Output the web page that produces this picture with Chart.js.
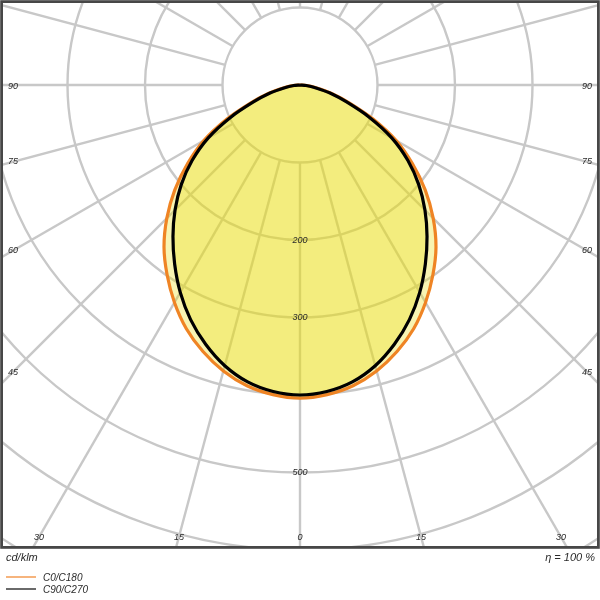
<!DOCTYPE html>
<html>
<head>
<meta charset="utf-8">
<script src="https://cdn.jsdelivr.net/npm/chart.js@4.4.1/dist/chart.umd.min.js"></script>
<style>
    html, body { margin: 0; padding: 0; background: #fff; }
    #wrap { width: 600px; height: 600px; }
</style>
</head>
<body>
<div id="wrap"><canvas id="ldc" width="600" height="600"></canvas></div>
<script>
// gamma angle from nadir, degrees (curves are symmetric, read from left half)
const gammaAngles = [0, 5, 10, 15, 20, 25, 30, 35, 40, 45, 50, 55, 60, 65, 70, 75, 80, 85, 90];
// cd/klm
const c0c180  = [404, 401, 394, 382, 366, 347, 324, 299, 273, 243, 211, 177, 143, 104, 68, 43, 22, 9, 0];
const c90c270 = [400, 397, 389, 375, 356, 334, 309, 282, 255, 228, 200, 170, 137, 99, 64, 40, 20, 8, 0];

const ringValues = [100, 200, 300, 400, 500, 600, 700, 800, 900, 1000];
const ringLabels = [200, 300, 500];
const spokeAngles = [0, 15, 30, 45, 60, 75, 90, 105, 120, 135, 150, 165, 180, 195, 210, 225, 240, 255, 270, 285, 300, 315, 330, 345];
const angleLabels = [0, 15, 30, 45, 60, 75, 90];

const labelFont = 'italic 9px "Liberation Sans", Arial, sans-serif';
const textColor = '#2a2a2a';

// px per cd/klm and the pole position inside the 600x600 canvas
const PX_PER_UNIT = 0.775;
const POLE = { x: 300, y: 85 };
const AREA = { left: 3, top: 3, right: 597, bottom: 546 };

function toXY(values) {
    const pts = [];
    // left half (C180 / C270) from 90 down to 0, then right half back up to 90
    for (let i = gammaAngles.length - 1; i >= 0; i--) {
        const t = gammaAngles[i] * Math.PI / 180;
        pts.push({ x: -values[i] * Math.sin(t), y: -values[i] * Math.cos(t) });
    }
    for (let i = 1; i < gammaAngles.length; i++) {
        const t = gammaAngles[i] * Math.PI / 180;
        pts.push({ x: values[i] * Math.sin(t), y: -values[i] * Math.cos(t) });
    }
    return pts;
}

const polarGrid = {
    id: 'polarGrid',
    beforeDatasetsDraw(chart) {
        const { ctx, chartArea: a, scales: { x, y } } = chart;
        const cx = x.getPixelForValue(0), cy = y.getPixelForValue(0);
        const rad = v => x.getPixelForValue(v) - cx;
        ctx.save();
        ctx.beginPath();
        ctx.rect(a.left, a.top, a.right - a.left, a.bottom - a.top);
        ctx.clip();
        ctx.strokeStyle = '#c8c8c8';
        ctx.lineWidth = 2.4;
        ringValues.forEach(v => {
            ctx.beginPath();
            ctx.arc(cx, cy, rad(v), 0, Math.PI * 2);
            ctx.stroke();
        });
        const r0 = rad(ringValues[0]), r1 = rad(ringValues[ringValues.length - 1]);
        spokeAngles.forEach(g => {
            const t = g * Math.PI / 180;
            const dx = Math.sin(t), dy = Math.cos(t);
            ctx.beginPath();
            ctx.moveTo(cx + dx * r0, cy + dy * r0);
            ctx.lineTo(cx + dx * r1, cy + dy * r1);
            ctx.stroke();
        });
        ctx.restore();
    },
    afterDatasetsDraw(chart) {
        const { ctx, scales: { x, y } } = chart;
        const cx = x.getPixelForValue(0);
        ctx.save();
        ctx.font = labelFont;
        ctx.fillStyle = textColor;
        ctx.textAlign = 'center';
        ctx.textBaseline = 'middle';
        ringLabels.forEach(v => ctx.fillText(String(v), cx, y.getPixelForValue(-v)));
        ctx.restore();
    },
    afterDraw(chart) {
        const { ctx, chartArea: a, scales: { x, y } } = chart;
        const cx = x.getPixelForValue(0), cy = y.getPixelForValue(0);
        ctx.save();

        // frame
        ctx.strokeStyle = '#474747';
        ctx.lineWidth = 2.8;
        ctx.strokeRect(a.left - 1.4, a.top - 1.4, a.right - a.left + 2.8, a.bottom - a.top + 2.8);

        // angle labels on the frame
        ctx.font = labelFont;
        ctx.fillStyle = textColor;
        ctx.textAlign = 'center';
        ctx.textBaseline = 'middle';
        angleLabels.forEach(g => {
            const t = g * Math.PI / 180;
            [-1, 1].forEach(side => {
                if (g === 0 && side === 1) return;
                const edge = side < 0 ? cx - a.left : a.right - cx;
                const exitY = g === 90 ? cy : cy + edge * Math.cos(t) / Math.sin(t);
                let px, py;
                if (g !== 0 && exitY < a.bottom - 12) {
                    px = side < 0 ? a.left + 10 : a.right - 10;
                    py = cy + (edge - 10) * Math.cos(t) / Math.sin(t);
                    if (g === 90) py = cy + 1;
                } else {
                    py = a.bottom - 9;
                    px = cx + side * (py - cy) * Math.tan(t);
                }
                ctx.fillText(String(g), px, py);
            });
        });

        // footer texts
        ctx.font = 'italic 11px "Liberation Sans", Arial, sans-serif';
        ctx.textBaseline = 'middle';
        ctx.textAlign = 'left';
        ctx.fillText('cd/klm', 6, 558);
        ctx.textAlign = 'right';
        ctx.fillText('\u03b7 = 100 %', 595, 558);

        // legend
        const items = [
            { label: 'C0/C180', color: '#f4a15c', y: 577 },
            { label: 'C90/C270', color: '#444444', y: 589 }
        ];
        ctx.font = 'italic 10px "Liberation Sans", Arial, sans-serif';
        ctx.textAlign = 'left';
        items.forEach(it => {
            ctx.strokeStyle = it.color;
            ctx.lineWidth = 1.6;
            ctx.beginPath();
            ctx.moveTo(6, it.y);
            ctx.lineTo(36, it.y);
            ctx.stroke();
            ctx.fillText(it.label, 43, it.y + 1);
        });
        ctx.restore();
    }
};

const fillColor = 'rgba(232, 222, 16, 0.32)';

new Chart(document.getElementById('ldc').getContext('2d'), {
    type: 'line',
    data: {
        datasets: [
            {
                label: 'C90/C270',
                data: toXY(c90c270),
                borderColor: '#000000',
                borderWidth: 3.2,
                backgroundColor: fillColor,
                fill: 'shape',
                pointRadius: 0,
                tension: 0.3,
                order: 1
            },
            {
                label: 'C0/C180',
                data: toXY(c0c180),
                borderColor: '#ef8424',
                borderWidth: 3.2,
                backgroundColor: fillColor,
                fill: 'shape',
                pointRadius: 0,
                tension: 0.3,
                order: 2
            }
        ]
    },
    options: {
        responsive: false,
        animation: false,
        devicePixelRatio: 1,
        layout: {
            padding: { left: AREA.left, top: AREA.top, right: 600 - AREA.right, bottom: 600 - AREA.bottom }
        },
        scales: {
            x: {
                type: 'linear',
                display: false,
                min: (AREA.left - POLE.x) / PX_PER_UNIT,
                max: (AREA.right - POLE.x) / PX_PER_UNIT
            },
            y: {
                type: 'linear',
                display: false,
                min: -(AREA.bottom - POLE.y) / PX_PER_UNIT,
                max: (POLE.y - AREA.top) / PX_PER_UNIT
            }
        },
        plugins: {
            legend: { display: false },
            tooltip: { enabled: false }
        }
    },
    plugins: [polarGrid]
});
</script>
</body>
</html>
